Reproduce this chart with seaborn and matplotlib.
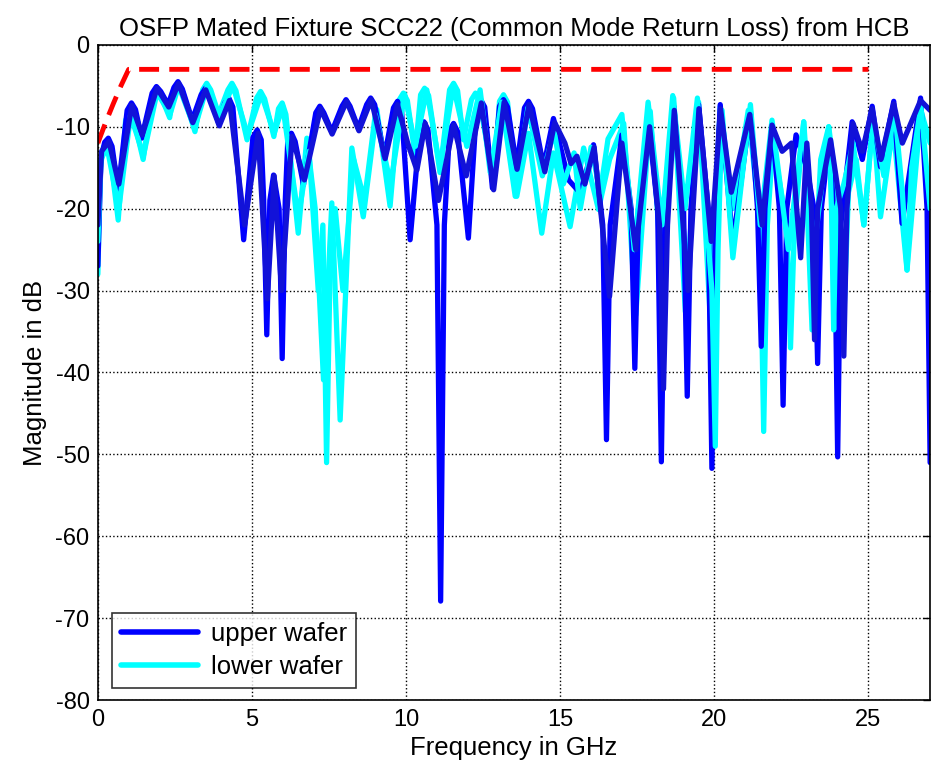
import numpy as np
import pandas as pd
import matplotlib
matplotlib.use('Agg')
import matplotlib.pyplot as plt
from matplotlib.lines import Line2D
import seaborn as sns

# limit line
limit_freq = [0.0, 0.25, 0.5, 0.75, 1.0, 25.0]
limit_db = [-12.0, -9.5, -7.2, -5.0, -3.0, -3.0]

# upper wafer, trace a
upper_a_freq = [0.0, 0.1, 0.22, 0.34, 0.46, 0.66, 0.95, 1.09, 1.22, 1.42, 1.76, 1.9, 2.04, 2.28,
                2.47, 2.6, 2.74, 3.06, 3.35, 3.49, 3.63, 3.92, 4.12, 4.25, 4.38, 4.73, 5.03, 5.17, 5.3,
                5.38, 5.48, 5.58, 5.7, 5.88, 5.98, 6.08, 6.16, 6.28, 6.4, 6.67, 7.07, 7.2, 7.33, 7.59,
                7.92, 8.05, 8.18, 8.45, 8.72, 8.85, 8.98, 9.3, 9.59, 9.72, 9.85, 10.13, 10.45, 10.58,
                10.71, 11.0, 11.12, 11.24, 11.41, 11.54, 11.67, 12.02, 12.29, 12.42, 12.55, 12.8, 13.03,
                13.16, 13.29, 13.59, 13.84, 13.97, 14.1,
                14.46, 14.78, 15.27, 15.65, 16.08, 16.38, 16.5, 16.62, 17.0, 17.3, 17.42, 17.54, 17.87,
                18.16, 18.28, 18.4, 18.68, 19.0, 19.12, 19.24, 19.49, 19.8, 19.92, 20.04, 20.19, 20.6,
                21.17, 21.4, 21.52, 21.64, 21.87, 22.11, 22.23, 22.35, 22.65, 23.0, 23.23, 23.35, 23.47,
                23.72, 23.9, 24.0, 24.1, 24.47, 24.8, 25.12, 25.39, 25.82, 26.09, 26.69, 26.9, 27.0]
upper_a_db = [-27, -14, -11.9, -11.4, -12.4, -17.7, -8.0, -7.1, -7.9, -11.4, -5.9, -5.1, -5.7, -7.3,
              -5.2, -4.5, -5.4, -9.2, -6.1, -5.3, -6.1, -9.6, -7.1, -6.5, -7.6, -23.8, -11.3, -10.4, -11.6,
              -19, -35.4, -19, -15.9, -20, -38.3, -19, -11.8, -10.8, -11.8, -17.1, -8.3, -7.5, -8.3, -10.6,
              -7.5, -6.7, -7.5, -10.2, -7.3, -6.5, -7.3, -13.7, -7.7, -6.9, -7.9, -23.8, -10.2, -9.4,
              -10.4, -22, -67.9, -22, -10.4, -9.6, -10.6, -23.6, -7.5, -6.7, -7.6, -17.5, -7.5,
              -6.7, -7.6, -14.9, -7.7, -6.9, -7.8,
              -14.9, -9.0, -16.5, -18.1, -12.2, -22, -48.2, -22, -11.0, -20, -39.5, -20, -9.6,
              -20, -50.9, -20, -7.5, -20, -42.9, -20, -7.3, -20, -51.7, -20, -7.3, -24.2,
              -8.1, -20, -36.8, -20, -9.8, -20, -44.0, -20, -11.0, -15, -20, -38.9, -20,
              -11.6, -22, -50.3, -22, -9.4, -14, -7.5, -14.9, -6.9, -21.8, -6.5, -20, -51]

# upper wafer, trace b
upper_b_freq = [0.0, 0.12, 0.36, 0.68, 1.1, 1.44, 1.92, 2.3, 2.62, 3.08, 3.5, 3.94, 4.27, 4.76, 5.2,
                5.5, 5.72, 5.96, 6.3, 6.7, 7.22, 7.6, 8.07, 8.47, 8.87, 9.32, 9.72, 10.05, 10.35, 10.62,
                11.05, 11.54, 11.95, 12.44, 12.84, 13.18, 13.6, 13.99, 14.5, 14.82, 15.15, 15.35, 15.54,
                15.8, 16.1, 16.6, 17.0, 17.45, 17.9, 18.22, 18.35, 18.48, 18.7, 19.15, 19.5, 19.9, 20.2,
                20.55, 21.15, 21.55, 21.87, 22.2, 22.5, 22.8, 23.0, 23.15, 23.25, 23.35, 23.77, 24.1,
                24.2, 24.3, 24.5, 24.8, 25.12, 25.4, 25.82, 26.1, 26.69, 27.0]
upper_b_db = [-22, -13, -11.8, -17, -7.4, -11, -5.3, -7.6, -4.7, -9.5, -5.5, -9.9, -6.8, -22, -10.8,
              -31, -16, -30, -11.2, -16.5, -7.8, -10.9, -6.9, -10.5, -6.7, -13.9, -7.3, -12, -15.3, -9.6,
              -19, -9.8, -16, -7.1, -17.7, -7.0, -15.2, -7.3, -15.5, -9.5, -12, -14.5, -13.6,
              -17, -12.5, -30.7, -12, -25, -10, -22, -42, -22, -8, -30, -7.8, -24, -7.8,
              -18, -8.5, -22, -9.8, -13, -12, -26, -12, -20, -36, -20, -11.6, -20,
              -38, -20, -9.6, -13, -7.8, -14, -7.2, -12, -6.8, -8]

# lower wafer, trace a
lower_a_freq = [0.0, 0.08, 0.18, 0.28, 0.4, 0.66, 0.9, 1.04, 1.17, 1.47, 1.76, 1.9, 2.04, 2.33, 2.47,
                2.6, 2.74, 3.15, 3.4, 3.53, 3.66, 3.92, 4.22, 4.35, 4.48, 4.84, 5.15, 5.28, 5.41, 5.71,
                5.86, 5.98, 6.1, 6.5, 6.78, 7.05, 7.32, 7.59, 7.86, 8.24, 8.61, 9.05, 9.48, 9.78, 9.91,
                10.04, 10.29, 10.47, 10.6, 10.73, 11.1, 11.41, 11.54, 11.67, 11.86, 12.12, 12.25, 12.38,
                12.84, 13.03, 13.16, 13.29, 13.59, 13.97, 14.4, 14.78, 15.32, 15.76, 16.24,
                16.6, 17.06, 17.45, 17.92, 18.3, 18.68, 19.06, 19.49, 19.87, 20.19, 20.6, 21.1, 21.48,
                21.6, 21.72, 21.9, 22.35, 22.47, 22.6, 22.9, 23.17, 23.45, 23.71, 24.05, 24.2, 24.35,
                24.6, 24.85, 25.15, 25.39, 25.8, 26.25, 26.7, 27.0]
lower_a_db = [-28, -15, -12.5, -12, -13.5, -21.4, -9.2, -8.3, -9.2, -14, -6.3, -5.5, -6.2, -8.9, -5.4,
              -4.7, -5.6, -10.6, -5.5, -4.7, -5.5, -8.5, -5.5, -4.7, -5.6, -11.6, -6.5, -5.7, -6.6, -11.2,
              -7.8, -7.1, -8.5, -23, -11.4, -20, -40.9, -19.3, -45.8, -12.6, -21, -7.9, -19.7, -6.7, -5.9,
              -6.8, -13.4, -6.1, -5.3, -6.2, -15.6, -5.5, -4.7, -5.6, -11.6, -6.7, -5.9, -6.8,
              -16.7, -6.9, -6.1, -7.0, -18.5, -10.8, -23, -13.2, -22.2, -12.6, -20.1,
              -14, -9.6, -33, -8.1, -28, -6.5, -32.6, -7.0, -33.6, -7.5, -20, -8, -22,
              -47.2, -22, -12, -22, -37, -22, -9.4, -34.8, -14, -10, -20, -33.4, -18,
              -14, -22, -9, -21, -10, -27.5, -8, -12]

# lower wafer, trace b
lower_b_freq = [0.0, 0.1, 0.3, 0.68, 1.06, 1.48, 1.92, 2.34, 2.62, 3.14, 3.55, 3.93, 4.38, 4.86, 5.3,
                5.72, 6.0, 6.5, 6.85, 7.15, 7.3, 7.42, 7.55, 7.7, 7.95, 8.3, 8.65, 9.0, 9.5, 9.95,
                10.3, 10.67, 11.1, 11.53, 11.97, 12.4, 12.73, 13.1, 13.54, 13.95, 14.42, 14.8, 15.1,
                15.45, 15.65, 16.0, 16.3, 16.55, 17.0, 17.4, 17.85, 18.3, 18.65, 19.05, 19.45, 19.92,
                20.03, 20.12, 20.25, 20.6, 21.17, 21.49, 21.87, 22.4, 22.9, 23.2, 23.71, 23.8, 23.87,
                23.95, 24.2, 24.5, 24.85, 25.15, 25.5, 25.85, 26.1, 26.25, 26.4, 26.7, 27.0]
lower_b_db = [-24, -14, -12.5, -20, -8.6, -13.5, -5.8, -8.5, -5, -10.2, -5, -8.8, -5, -11, -6,
              -10.8, -7.5, -21, -13, -30, -22, -51, -24, -20, -30, -14, -19, -8.5, -17, -6,
              -12.4, -5.5, -15, -5, -12.4, -5.5, -15.6, -7, -18.5, -7.7, -16, -10.5, -17,
              -13.2, -20, -12.5, -18, -11.5, -8.5, -25, -7, -22, -6.2, -20, -6.5, -30,
              -49, -25, -8, -26, -7.3, -22, -9.2, -25, -9.4, -26, -10, -20, -34.8,
              -20, -17, -12, -22, -9, -16, -8, -18, -27.5, -15, -7.5, -20]

sns.set_theme(style='white')
plt.rcParams['font.family'] = ['Liberation Sans', 'DejaVu Sans']
plt.rcParams['axes.unicode_minus'] = False
plt.rcParams['text.color'] = 'black'
plt.rcParams['axes.labelcolor'] = 'black'

fig = plt.figure(figsize=(9.32, 7.72), dpi=100)
ax = fig.add_axes([0.105, 0.093, 0.893, 0.849])

blue = '#0000ff'
blue2 = '#1212d8'
cyan = '#00ffff'
lw = 3.8

sns.lineplot(x=lower_a_freq, y=lower_a_db, color=cyan, lw=lw, sort=False, estimator=None, ax=ax)
sns.lineplot(x=upper_a_freq, y=upper_a_db, color=blue, lw=lw, sort=False, estimator=None, ax=ax)
sns.lineplot(x=lower_b_freq, y=lower_b_db, color=cyan, lw=lw, sort=False, estimator=None, ax=ax)
sns.lineplot(x=upper_b_freq, y=upper_b_db, color=blue2, lw=lw, sort=False, estimator=None, ax=ax)
for ln in ax.get_lines():
    ln.set_solid_joinstyle('round')
ax.plot(limit_freq, limit_db, color='red', lw=3.5, dashes=(4.1, 2.1))

ax.set_xlim(0, 27)
ax.set_ylim(-80, 0)
ax.set_xticks(np.arange(0, 26, 5))
ax.set_yticks(np.arange(-80, 1, 10))
ax.grid(True, color='black', linestyle=':', linewidth=1.0)
ax.tick_params(direction='in', top=True, right=True, length=5, width=1, labelsize=17,
               colors='black', pad=6)
for s in ax.spines.values():
    s.set_color('black')
    s.set_linewidth(1.2)

ax.set_title('OSFP Mated Fixture SCC22 (Common Mode Return Loss) from HCB', fontsize=18.5, pad=6,
             color='black')
ax.set_xlabel('Frequency in GHz', fontsize=18.5, labelpad=4, color='black')
ax.set_ylabel('Magnitude in dB', fontsize=18.5, labelpad=6, color='black')

handles = [Line2D([], [], color=blue, lw=4), Line2D([], [], color=cyan, lw=4)]
leg = ax.legend(handles, ['upper wafer', 'lower wafer'], loc='lower left', fontsize=18.5,
                frameon=True, fancybox=False, edgecolor='black', handlelength=3.0,
                handletextpad=0.5, labelspacing=0.35, borderpad=0.35,
                borderaxespad=0.0, bbox_to_anchor=(0.017, 0.018))
leg.get_frame().set_linewidth(1.2)
for t in leg.get_texts():
    t.set_color('black')

fig.savefig('out.png', dpi=100)
